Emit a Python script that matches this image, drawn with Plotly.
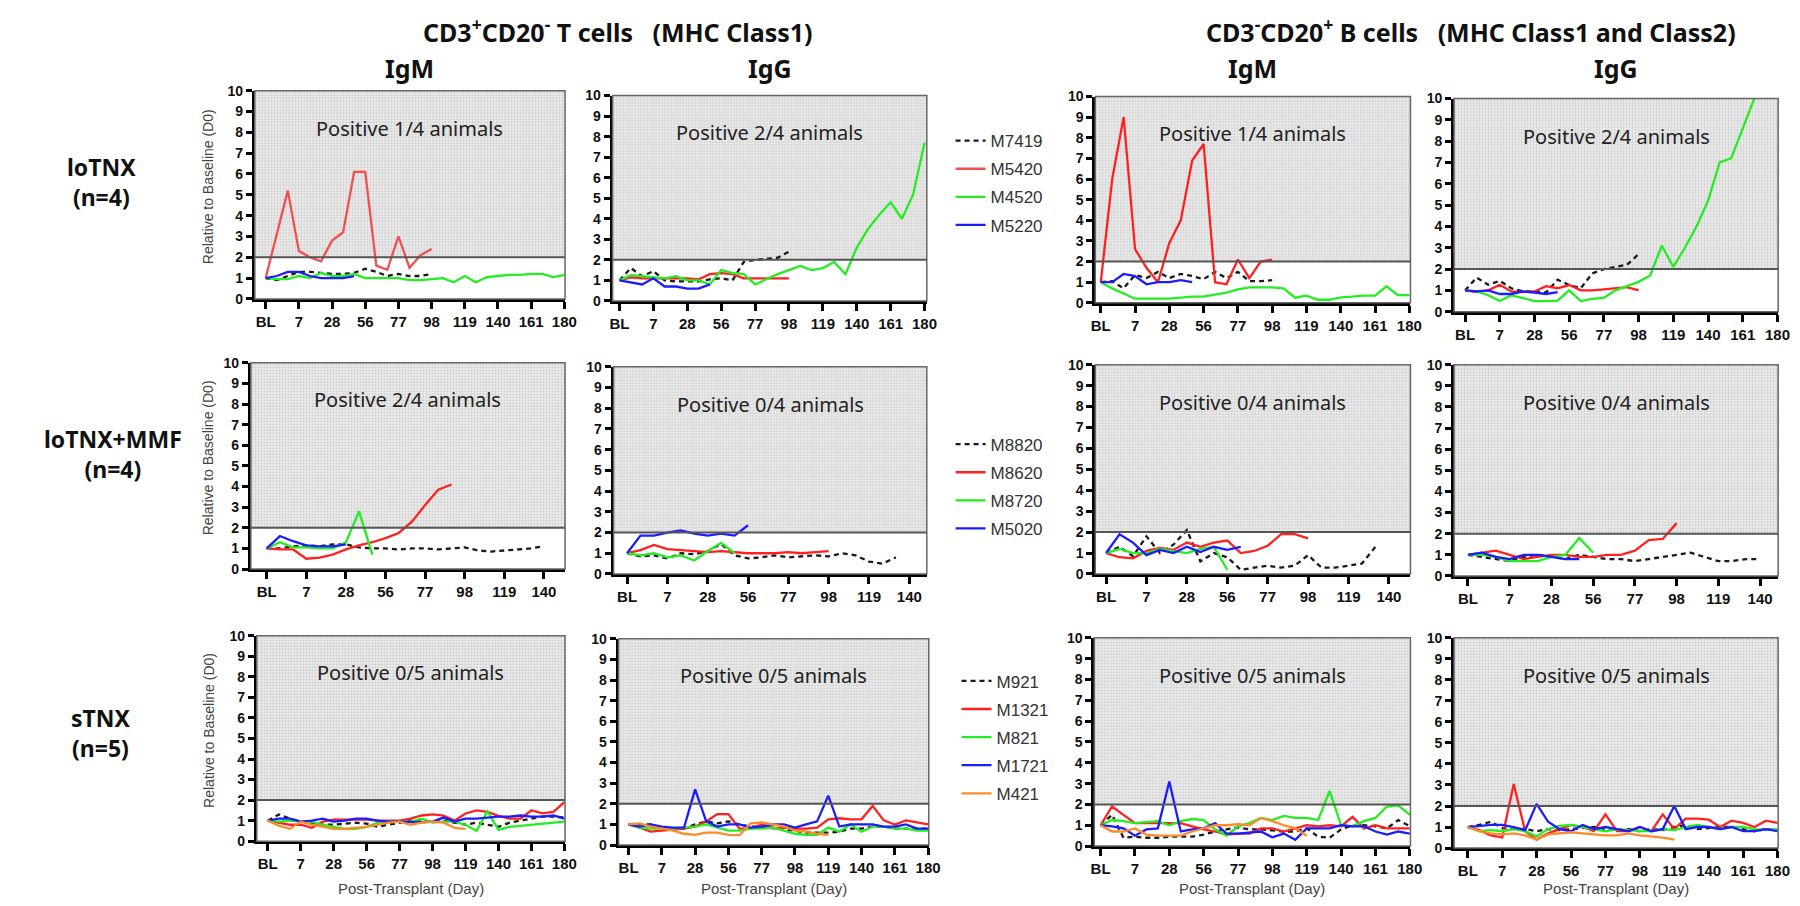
import plotly.graph_objects as go

W, H = 1800, 906

# ---------------- data ----------------
ticks_long = ["BL", "7", "28", "56", "77", "98", "119", "140", "161", "180"]
ticks_short = ["BL", "7", "28", "56", "77", "98", "119", "140"]

row_labels = ["loTNX<br>(n=4)", "loTNX+MMF<br>(n=4)", "sTNX<br>(n=5)"]
col_labels = ["IgM", "IgG", "IgM", "IgG"]
positive_text = [
    ["Positive 1/4 animals", "Positive 2/4 animals", "Positive 1/4 animals", "Positive 2/4 animals"],
    ["Positive 2/4 animals", "Positive 0/4 animals", "Positive 0/4 animals", "Positive 0/4 animals"],
    ["Positive 0/5 animals", "Positive 0/5 animals", "Positive 0/5 animals", "Positive 0/5 animals"],
]

animals_r1 = ["M7419", "M5420", "M4520", "M5220"]
animals_r2 = ["M8820", "M8620", "M8720", "M5020"]
animals_r3 = ["M921", "M1321", "M821", "M1721", "M421"]

# ---- row 1 : loTNX ----
t_igm_M7419 = [1.0, 0.9, 1.1, 1.3, 1.3, 1.25, 1.2, 1.2, 1.25, 1.45, 1.3, 1.1, 1.2, 1.1, 1.1, 1.2]
t_igm_M5420 = [1.0, 3.1, 5.2, 2.3, 2.0, 1.8, 2.8, 3.2, 6.1, 6.1, 1.6, 1.4, 3.0, 1.5, 2.1, 2.4]
t_igm_M4520 = [1.0, 0.95, 0.95, 1.1, 1.0, 1.25, 1.1, 1.1, 1.2, 1.0, 1.0, 1.0, 1.0, 0.9, 0.9, 0.95,
               1.0, 0.8, 1.1, 0.8, 1.05, 1.1, 1.15, 1.15, 1.2, 1.2, 1.05, 1.15]
t_igm_M5220 = [1.0, 1.1, 1.3, 1.3, 1.1, 1.0, 1.0, 1.0, 1.1]

t_igg_M7419 = [1.0, 1.6, 1.2, 1.45, 1.0, 0.95, 0.95, 0.95, 1.05, 1.1, 1.0, 1.9, 2.0, 2.05, 2.1, 2.4]
t_igg_M5420 = [1.0, 1.15, 1.1, 1.1, 1.1, 1.1, 1.1, 1.05, 1.3, 1.35, 1.3, 1.1, 1.1, 1.1, 1.1, 1.1]
t_igg_M4520 = [1.0, 1.25, 1.2, 1.15, 1.1, 1.2, 1.0, 1.0, 0.8, 1.5, 1.35, 1.3, 0.8, 1.05, 1.3, 1.5,
               1.7, 1.5, 1.6, 1.9, 1.3, 2.6, 3.5, 4.2, 4.8, 4.0, 5.2, 7.7]
t_igg_M5220 = [1.0, 0.9, 0.8, 1.1, 0.7, 0.7, 0.6, 0.6, 0.8]

b_igm_M7419 = [1.0, 1.05, 0.7, 1.35, 1.2, 1.5, 1.2, 1.4, 1.3, 1.15, 1.5, 1.2, 1.5, 1.05, 1.05, 1.1]
b_igm_M5420 = [1.0, 6.0, 9.0, 2.6, 1.7, 1.0, 2.9, 4.0, 6.9, 7.7, 1.0, 0.9, 2.1, 1.2, 2.0, 2.1]
b_igm_M4520 = [1.0, 0.7, 0.45, 0.2, 0.2, 0.2, 0.2, 0.25, 0.3, 0.3, 0.4, 0.5, 0.65, 0.75, 0.75, 0.75,
               0.7, 0.25, 0.35, 0.15, 0.15, 0.27, 0.3, 0.35, 0.35, 0.8, 0.37, 0.37]
b_igm_M5220 = [1.0, 1.0, 1.4, 1.3, 0.9, 1.0, 1.0, 1.1, 1.0]

b_igg_M7419 = [1.0, 1.6, 1.26, 1.45, 1.1, 0.95, 0.95, 0.9, 1.5, 1.25, 1.1, 1.8, 2.0, 2.1, 2.2, 2.7]
b_igg_M5420 = [1.0, 0.92, 1.0, 1.26, 0.95, 0.92, 0.95, 1.2, 1.1, 1.25, 1.0, 1.0, 1.05, 1.1, 1.15, 1.0]
b_igg_M4520 = [1.0, 0.95, 0.77, 0.5, 0.77, 0.65, 0.5, 0.5, 0.52, 1.0, 0.5, 0.6, 0.65, 1.0, 1.2, 1.4,
               1.7, 3.1, 2.1, 3.0, 4.0, 5.2, 7.0, 7.2, 8.6, 10.0]
b_igg_M5220 = [1.0, 0.95, 1.0, 0.83, 0.83, 0.95, 0.9, 0.83, 0.92]

# ---- row 2 : loTNX+MMF ----
t_igm_M8820 = [1.0, 1.0, 1.1, 1.15, 1.1, 1.2, 1.2, 1.05, 1.0, 1.0, 0.95, 1.0, 1.0, 0.95, 1.0, 1.05,
               0.9, 0.85, 0.9, 0.95, 1.0, 1.1]
t_igm_M8620 = [1.0, 0.95, 0.95, 0.5, 0.55, 0.7, 0.95, 1.15, 1.3, 1.5, 1.75, 2.3, 3.1, 3.85, 4.1]
t_igm_M8720 = [1.0, 1.3, 1.05, 1.05, 1.0, 1.0, 1.3, 2.8, 0.7]
t_igm_M5020 = [1.0, 1.6, 1.35, 1.15, 1.1, 1.1, 1.2]

t_igg_M8820 = [1.0, 0.85, 0.9, 0.75, 1.0, 0.95, 1.1, 1.45, 0.9, 0.75, 0.8, 0.9, 0.8, 0.85, 0.9, 0.85,
               1.0, 0.9, 0.6, 0.5, 0.8]
t_igg_M8620 = [1.0, 1.15, 1.4, 1.2, 1.15, 1.1, 1.05, 1.1, 1.05, 1.0, 1.0, 1.0, 1.05, 1.0, 1.05, 1.1]
t_igg_M8720 = [1.0, 0.9, 1.0, 0.8, 0.9, 0.65, 1.1, 1.5, 1.0]
t_igg_M5020 = [1.0, 1.85, 1.85, 2.0, 2.1, 1.95, 1.85, 1.95, 1.85, 2.35]

b_igm_M8820 = [1.0, 1.3, 0.85, 1.8, 1.0, 1.4, 2.1, 0.6, 1.0, 0.8, 0.2, 0.3, 0.4, 0.3, 0.4, 0.9,
               0.3, 0.3, 0.4, 0.5, 1.3]
b_igm_M8620 = [1.0, 0.8, 0.75, 1.1, 1.25, 1.15, 1.5, 1.3, 1.5, 1.6, 1.0, 1.1, 1.35, 1.9, 1.9, 1.7]
b_igm_M8720 = [1.0, 1.2, 1.0, 1.0, 1.2, 1.1, 1.0, 1.2, 1.3, 0.2]
b_igm_M5020 = [1.0, 1.9, 1.5, 0.9, 1.15, 1.0, 1.3, 1.05, 1.3, 1.15, 1.3]

b_igg_M8820 = [1.0, 0.9, 0.8, 0.7, 0.9, 1.0, 0.9, 0.8, 1.0, 0.9, 0.8, 0.8, 0.7, 0.8, 0.9, 1.0,
               1.1, 0.9, 0.7, 0.7, 0.8, 0.8]
b_igg_M8620 = [1.0, 1.1, 1.2, 1.0, 0.8, 0.9, 1.0, 1.0, 0.9, 0.9, 1.0, 1.0, 1.2, 1.7, 1.75, 2.5]
b_igg_M8720 = [1.0, 1.0, 0.9, 0.7, 0.7, 0.7, 0.9, 1.0, 1.8, 1.1]
b_igg_M5020 = [1.0, 1.1, 0.9, 0.8, 1.0, 1.0, 0.9, 0.8, 0.8]

# ---- row 3 : sTNX ----
t_igm_M921 = [1.0, 1.3, 1.1, 0.95, 0.9, 0.8, 0.8, 0.85, 0.9, 0.85, 0.7, 0.8, 0.9, 1.0, 0.95, 0.95,
              1.0, 0.9, 0.8, 0.9, 0.8, 0.7, 0.9, 1.0, 1.1, 1.2, 1.2, 1.15]
t_igm_M1321 = [1.0, 0.9, 0.8, 0.8, 0.65, 0.95, 1.05, 1.05, 1.05, 1.05, 1.0, 1.0, 1.0, 1.1, 1.25, 1.3,
               1.25, 1.0, 1.35, 1.5, 1.43, 1.23, 1.1, 1.1, 1.5, 1.35, 1.43, 1.9]
t_igm_M821 = [1.0, 0.95, 1.0, 0.95, 0.95, 0.8, 0.7, 0.6, 0.6, 0.7, 0.9, 0.95, 0.95, 0.95, 1.1, 0.9,
              0.95, 0.95, 0.8, 0.5, 1.45, 0.55, 0.7, 0.75, 0.8, 0.85, 0.9, 0.95]
t_igm_M1721 = [1.0, 1.1, 1.1, 0.95, 1.0, 1.1, 0.95, 1.0, 1.1, 1.1, 1.0, 0.95, 0.95, 0.92, 0.92, 0.95,
               1.15, 0.95, 1.1, 1.1, 1.15, 1.2, 1.2, 1.25, 1.2, 1.2, 1.25, 1.1]
t_igm_M421 = [1.0, 0.75, 0.6, 0.95, 0.8, 0.7, 0.6, 0.6, 0.65, 0.7, 0.8, 0.9, 0.95, 0.8, 0.9, 0.95,
              0.9, 0.65, 0.6]

t_igg_M921 = [1.0, 1.0, 1.0, 0.85, 0.8, 0.8, 1.0, 1.15, 1.05, 1.15, 1.0, 0.9, 0.9, 0.85, 0.75, 0.7,
              0.6, 0.6, 0.6, 0.65, 0.8, 0.8, 0.9, 0.9, 0.8, 0.8, 0.8, 0.8]
t_igg_M1321 = [1.0, 0.85, 0.65, 0.7, 0.75, 0.8, 0.9, 1.15, 1.5, 1.5, 0.8, 0.8, 1.0, 0.8, 0.85, 0.8,
               0.8, 0.85, 1.25, 1.3, 1.25, 1.25, 1.9, 1.2, 1.0, 1.2, 1.1, 1.0]
t_igg_M821 = [1.0, 0.85, 0.8, 0.8, 0.8, 0.85, 0.9, 1.0, 0.85, 0.7, 0.7, 0.8, 0.8, 0.85, 0.7, 0.55,
              0.5, 0.5, 0.85, 0.65, 1.0, 0.65, 0.9, 0.9, 0.8, 0.8, 0.7, 0.7]
t_igg_M1721 = [1.0, 0.9, 1.0, 0.9, 0.85, 0.85, 2.7, 1.15, 0.9, 1.0, 1.0, 0.85, 0.9, 1.0, 1.0, 0.85,
               1.0, 1.15, 2.4, 0.9, 1.0, 1.0, 1.0, 0.9, 0.9, 1.0, 0.8, 0.8]
t_igg_M421 = [1.0, 1.05, 0.9, 0.8, 0.7, 0.55, 0.5, 0.6, 0.6, 0.5, 0.48, 1.05, 1.1, 1.0, 0.9, 0.7,
              0.65, 0.55, 0.5]

b_igm_M921 = [1.0, 1.5, 0.4, 0.45, 0.4, 0.4, 0.45, 0.45, 0.45, 0.55, 0.7, 0.8, 0.9, 0.8, 0.8, 0.75,
              0.7, 0.7, 0.85, 0.45, 0.4, 0.8, 1.0, 1.0, 0.95, 0.85, 1.25, 0.95]
b_igm_M1321 = [1.0, 1.9, 1.5, 1.1, 1.1, 1.1, 1.1, 1.1, 0.95, 0.8, 0.7, 0.55, 0.6, 0.6, 0.85, 0.85,
               0.7, 0.85, 1.0, 0.95, 1.0, 0.95, 1.4, 0.85, 1.0, 0.85, 0.85, 0.85]
b_igm_M821 = [1.0, 1.25, 1.2, 1.1, 1.15, 1.2, 1.0, 1.2, 1.3, 1.25, 0.8, 0.5, 0.95, 1.1, 1.35, 1.25,
              1.45, 1.35, 1.35, 1.25, 2.65, 1.0, 0.95, 1.2, 1.35, 1.9, 1.95, 1.5]
b_igm_M1721 = [1.0, 0.95, 0.85, 0.5, 0.8, 0.85, 3.1, 0.7, 0.8, 0.85, 1.1, 0.6, 0.6, 0.65, 0.7, 0.42,
               0.6, 0.3, 0.85, 0.85, 0.85, 1.0, 0.95, 0.95, 0.7, 0.55, 0.7, 0.6]
b_igm_M421 = [1.0, 0.7, 0.7, 0.85, 0.55, 0.5, 0.5, 0.5, 0.7, 0.85, 1.0, 1.0, 1.05, 1.0, 1.35, 1.2,
              1.0, 0.85, 0.5]

b_igg_M921 = [1.0, 1.1, 1.25, 0.95, 0.9, 0.9, 0.8, 0.9, 0.85, 0.9, 0.95, 1.0, 0.9, 0.85, 0.9, 0.8,
              0.9, 0.85, 1.0, 1.1, 0.9, 0.95, 1.0, 1.0, 0.9, 0.8, 0.9, 0.85]
b_igg_M1321 = [1.0, 0.85, 0.6, 0.5, 3.05, 0.8, 0.4, 0.7, 0.9, 1.1, 1.0, 0.8, 1.6, 0.8, 0.8, 1.0,
               0.8, 1.6, 0.9, 1.4, 1.4, 1.35, 1.0, 1.3, 1.2, 1.0, 1.3, 1.2]
b_igg_M821 = [1.0, 0.8, 0.85, 0.8, 0.9, 0.8, 0.55, 0.9, 1.05, 1.1, 1.0, 0.9, 0.8, 0.9, 0.85, 0.8,
              0.8, 0.9, 0.85, 1.0, 1.1, 1.0, 0.9, 1.0, 1.0, 0.9, 0.85, 0.9]
b_igg_M1721 = [1.0, 1.05, 1.1, 1.1, 1.0, 0.85, 2.1, 1.25, 0.9, 0.8, 1.1, 0.9, 1.0, 0.9, 0.8, 1.0,
               0.8, 0.9, 2.0, 0.9, 1.0, 1.0, 0.9, 1.0, 0.8, 0.8, 0.9, 0.8]
b_igg_M421 = [1.0, 0.8, 0.7, 0.65, 0.7, 0.6, 0.4, 0.65, 0.7, 0.75, 0.7, 0.65, 0.6, 0.6, 0.7, 0.6,
              0.55, 0.5, 0.4]

panels_data = [
    [[t_igm_M7419, t_igm_M5420, t_igm_M4520, t_igm_M5220],
     [t_igg_M7419, t_igg_M5420, t_igg_M4520, t_igg_M5220],
     [b_igm_M7419, b_igm_M5420, b_igm_M4520, b_igm_M5220],
     [b_igg_M7419, b_igg_M5420, b_igg_M4520, b_igg_M5220]],
    [[t_igm_M8820, t_igm_M8620, t_igm_M8720, t_igm_M5020],
     [t_igg_M8820, t_igg_M8620, t_igg_M8720, t_igg_M5020],
     [b_igm_M8820, b_igm_M8620, b_igm_M8720, b_igm_M5020],
     [b_igg_M8820, b_igg_M8620, b_igg_M8720, b_igg_M5020]],
    [[t_igm_M921, t_igm_M1321, t_igm_M821, t_igm_M1721, t_igm_M421],
     [t_igg_M921, t_igg_M1321, t_igg_M821, t_igg_M1721, t_igg_M421],
     [b_igm_M921, b_igm_M1321, b_igm_M821, b_igm_M1721, b_igm_M421],
     [b_igg_M921, b_igg_M1321, b_igg_M821, b_igg_M1721, b_igg_M421]],
]
row_animals = [animals_r1, animals_r2, animals_r3]

# ---------------- layout / style ----------------
series_style = [
    dict(color="#1a1a1a", dash="5px,4px"),
    dict(color="#ff2020", dash="solid"),
    dict(color="#22ee22", dash="solid"),
    dict(color="#1c1cff", dash="solid"),
    dict(color="#ff8a2a", dash="solid"),
]

# pixel boxes: (left, right, top(y=10), bottom(y=0))
boxes = [
    [(245, 558, 76, 288), (606, 923, 81, 290), (1093, 1411, 82, 292), (1455, 1782, 84, 301)],
    [(241, 558, 353, 563), (607, 923, 357, 568), (1093, 1411, 355, 568), (1455, 1782, 355, 570)],
    [(247, 558, 631, 840), (612, 925, 634, 844), (1092, 1411, 633, 845), (1455, 1782, 633, 847)],
]
xranges = [
    [(-0.98, 27.06), (-0.61, 27.2), (-0.48, 27.1), (-0.95, 27.06)],
    [(-1.2, 22.6), (-1.0, 22.3), (-0.8, 22.6), (-1.0, 22.3)],
    [(-1.0, 27.06), (-0.9, 27.06), (-0.55, 27.06), (-1.2, 27.06)],
]

TICKFONT = dict(family="Liberation Sans, Arial", size=15, color="#111", weight="bold")
TXTFONT = "Noto Sans, Open Sans, sans-serif"

fig = go.Figure()
shapes = []
annotations = []
layout_axes = {}


def ann(text, x, y, size, color="#111", bold=False, family=TXTFONT, angle=0):
    f = dict(family=family, size=size, color=color)
    if bold:
        f["weight"] = "bold"
    return dict(text=text, xref="paper", yref="paper", x=x / W, y=1 - y / H,
                xanchor="center", yanchor="middle", showarrow=False,
                textangle=angle, font=f)


n = 0
for r in range(3):
    nticks = ticks_long if r != 1 else ticks_short
    tickvals = [3 * i for i in range(len(nticks))]
    for c in range(4):
        n += 1
        sfx = "" if n == 1 else str(n)
        xa, ya = "x" + sfx, "y" + sfx
        x0, x1, yt, yb = boxes[r][c]
        xr = xranges[r][c]
        layout_axes["xaxis" + sfx] = dict(
            domain=[x0 / W, x1 / W], range=list(xr), anchor=ya,
            tickmode="array", tickvals=tickvals, ticktext=nticks,
            showline=True, linecolor="#000", linewidth=3, ticks="outside",
            ticklen=7, tickwidth=2.5, tickcolor="#000", tickfont=TICKFONT,
            showgrid=False, zeroline=False, fixedrange=True,
        )
        layout_axes["yaxis" + sfx] = dict(
            domain=[1 - yb / H, 1 - yt / H], range=[0, 10], anchor=xa,
            tickmode="array", tickvals=list(range(11)),
            showline=True, linecolor="#000", linewidth=3, ticks="outside",
            ticklen=6, tickwidth=2.5, tickcolor="#000", tickfont=dict(TICKFONT, size=14),
            showgrid=False, zeroline=False, fixedrange=True,
        )
        # stippled positive region (y > 2)
        fig.add_trace(go.Scatter(
            x=[xr[0], xr[1], xr[1], xr[0], xr[0]], y=[2, 2, 10, 10, 2],
            xaxis=xa, yaxis=ya, mode="lines", line=dict(width=0),
            fill="toself", fillcolor="#e6e6e6",
            fillpattern=dict(shape=".", fgcolor="#a0a0a0", bgcolor="#efefef", size=3, solidity=0.4),
            showlegend=False, hoverinfo="skip",
        ))
        # frame (top/right) and threshold line at 2
        shapes.append(dict(type="rect", xref=xa + " domain", yref=ya + " domain",
                           x0=0, x1=1, y0=0, y1=1, line=dict(color="#666", width=1.5), layer="above"))
        shapes.append(dict(type="line", xref=xa + " domain", yref=ya,
                           x0=0, x1=1, y0=2, y1=2, line=dict(color="#555", width=2), layer="above"))
        # data
        for k, vals in enumerate(panels_data[r][c]):
            st = series_style[k]
            col = st["color"]
            if r == 0 and c == 0 and k == 1:
                col = "#ef5050"
            fig.add_trace(go.Scatter(
                x=list(range(len(vals))), y=vals, xaxis=xa, yaxis=ya, mode="lines",
                line=dict(color=col, width=2.3, dash=st["dash"]),
                name=row_animals[r][k], legendgroup=f"r{r}k{k}",
                legend="legend" if r == 0 else f"legend{r + 1}",
                showlegend=(c == 0), hoverinfo="skip",
            ))
        annotations.append(dict(
            text=positive_text[r][c], xref=xa + " domain", yref=ya, x=0.5, y=8.2,
            xanchor="center", yanchor="middle",
            showarrow=False, font=dict(family=TXTFONT, size=20, color="#222"),
        ))
        if c == 0:
            annotations.append(ann("Relative to Baseline (D0)", 198, (yt + yb) / 2 - 8, 14,
                                   color="#444", family="Liberation Sans, Arial", angle=-90))
        if r == 2:
            annotations.append(ann("Post-Transplant (Day)", (x0 + x1) / 2, 888, 15,
                                   color="#444", family="Liberation Sans, Arial"))

# column headers
col_centers = [401, 765, 1252, 1618]
for c in range(4):
    annotations.append(ann(col_labels[c], col_centers[c], 53, 25, bold=True))
annotations.append(ann("CD3<sup>+</sup>CD20<sup>-</sup> T cells\u00a0\u00a0\u00a0(MHC Class1)",
                       611, 15, 25, bold=True))
annotations.append(ann("CD3<sup>-</sup>CD20<sup>+</sup> B cells\u00a0\u00a0\u00a0(MHC Class1 and Class2)",
                       1472, 15, 25, bold=True))
# row labels
row_label_pos = [(90, 169), (102, 446), (90, 730)]
for r in range(3):
    annotations.append(ann(row_labels[r], row_label_pos[r][0], row_label_pos[r][1], 23, bold=True))

legend_common = dict(
    xanchor="left", yanchor="top", bgcolor="rgba(0,0,0,0)", borderwidth=0,
    font=dict(family="Liberation Sans, Arial", size=17, color="#333"),
    tracegroupgap=3, traceorder="grouped",
)
fig.update_layout(
    width=W, height=H, margin=dict(l=0, r=0, t=0, b=0),
    paper_bgcolor="white", plot_bgcolor="white",
    shapes=shapes, annotations=annotations,
    legend=dict(legend_common, x=947 / W, y=1 - 109 / H),
    legend2=dict(legend_common, x=947 / W, y=1 - 418 / H),
    legend3=dict(legend_common, x=953 / W, y=1 - 659 / H),
    **layout_axes,
)

fig.write_html("out.html")
